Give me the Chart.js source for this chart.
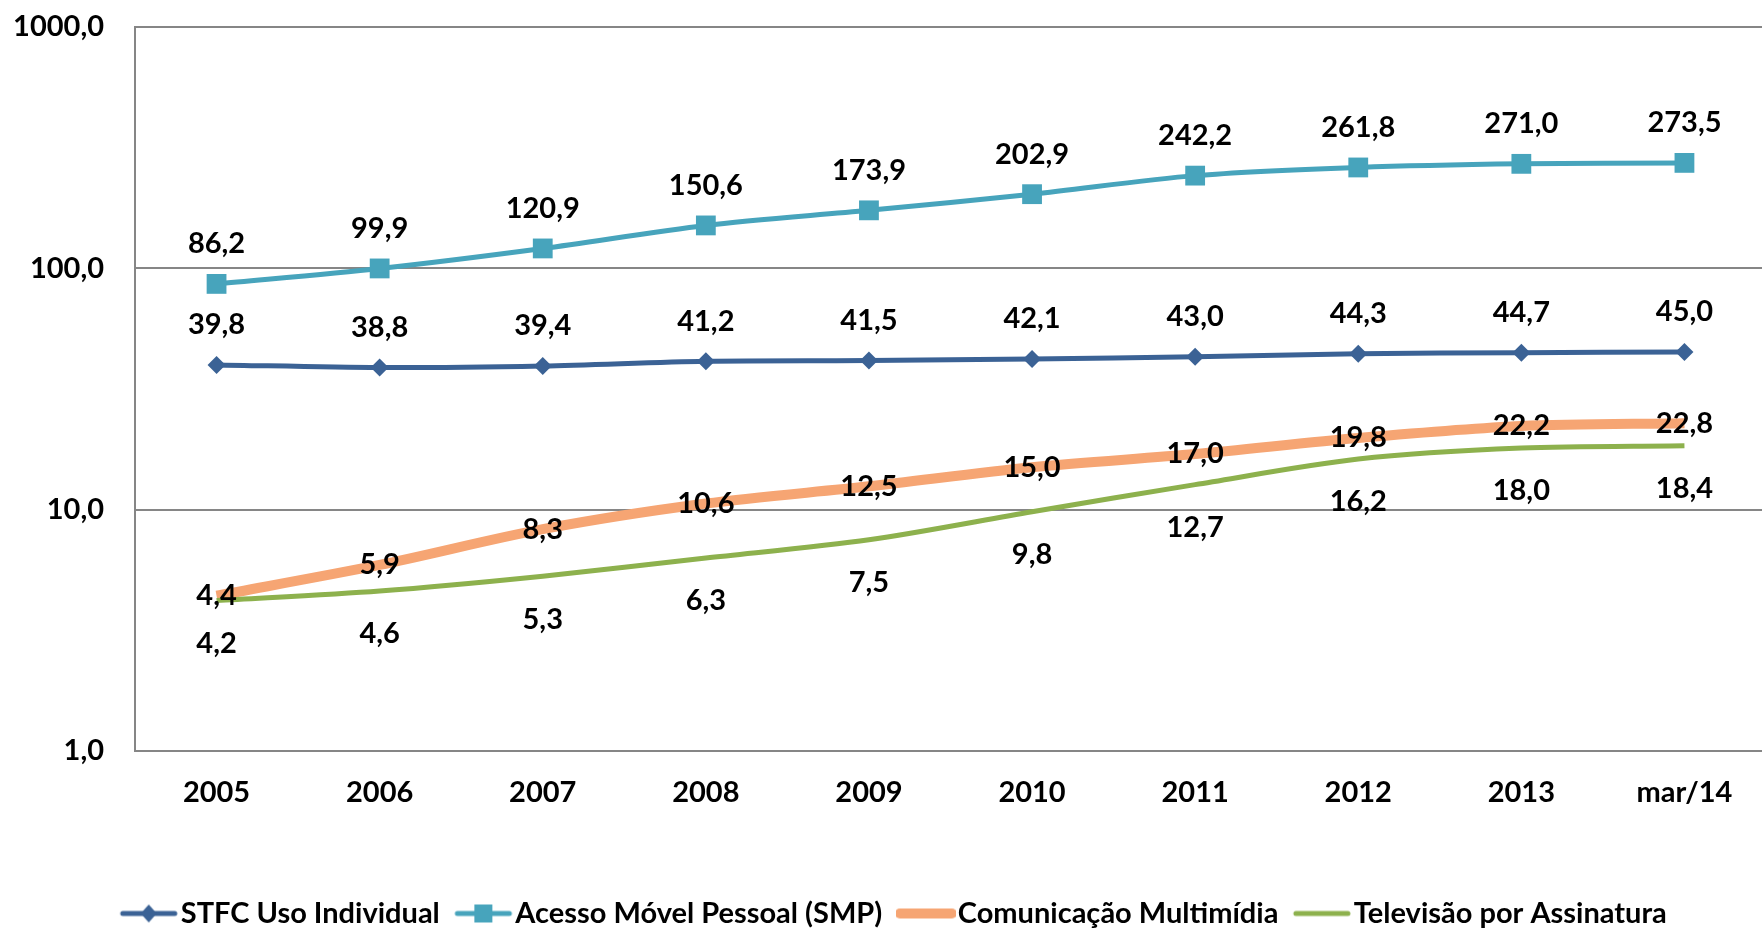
<!DOCTYPE html>
<html>
<head>
<meta charset="utf-8">
<script src="https://cdn.jsdelivr.net/npm/chart.js@4.4.1/dist/chart.umd.min.js"></script>
<style>
  body { margin: 0; background: #fff; overflow: hidden; }
  #wrap { width: 1762px; height: 928px; overflow: hidden; }
</style>
</head>
<body>
<div id="wrap"><canvas id="grafico" width="1766" height="928"></canvas></div>
<script>
const anos = ["2005", "2006", "2007", "2008", "2009", "2010", "2011", "2012", "2013", "mar/14"];
const stfc = [39.8, 38.8, 39.4, 41.2, 41.5, 42.1, 43.0, 44.3, 44.7, 45.0];
const smp = [86.2, 99.9, 120.9, 150.6, 173.9, 202.9, 242.2, 261.8, 271.0, 273.5];
const multimidia = [4.4, 5.9, 8.3, 10.6, 12.5, 15.0, 17.0, 19.8, 22.2, 22.8];
const tvAssinatura = [4.2, 4.6, 5.3, 6.3, 7.5, 9.8, 12.7, 16.2, 18.0, 18.4];
const yTicks = [1, 10, 100, 1000];

const FONTE = "Lato";
const CINZA = "#868686";
const TAM = 29;

function formatar(v) {
    return v.toFixed(1).replace(".", ",");
}

// icone da legenda: linha com o marcador no meio
function iconeLegenda(cor, largura, marcador) {
    const c = document.createElement("canvas");
    c.width = 60;
    c.height = 24;
    const g = c.getContext("2d");
    g.strokeStyle = cor;
    g.lineWidth = largura;
    g.lineCap = "round";
    g.beginPath();
    g.moveTo(4, 12);
    g.lineTo(56, 12);
    g.stroke();
    g.fillStyle = cor;
    if (marcador === "losango") {
        g.beginPath();
        g.moveTo(30, 3);
        g.lineTo(38, 12);
        g.lineTo(30, 21);
        g.lineTo(22, 12);
        g.closePath();
        g.fill();
    } else if (marcador === "quadrado") {
        g.fillRect(21, 3, 18, 18);
    }
    return c;
}

const rotulosPlugin = {
    id: "rotulos",
    afterDatasetsDraw(chart) {
        const ctx = chart.ctx;
        ctx.save();
        ctx.font = `bold ${TAM}px ${FONTE}`;
        ctx.fillStyle = "#000";
        ctx.textAlign = "center";
        ctx.textBaseline = "middle";
        chart.data.datasets.forEach((ds, i) => {
            const meta = chart.getDatasetMeta(i);
            meta.data.forEach((pt, j) => {
                ctx.fillText(formatar(ds.data[j]), pt.x, pt.y + ds.deslocRotulo);
            });
        });
        ctx.restore();
    },
};

// empurra a legenda um pouco para a direita e para baixo
const ajusteLegenda = {
    id: "ajusteLegenda",
    afterLayout(chart) {
        const lg = chart.legend;
        if (!lg) return;
        lg.left += 16;
        lg.right += 16;
        lg.top += 10;
        lg.bottom += 10;
    },
};

const series = [
    { label: "STFC Uso Individual", data: stfc, cor: "#3B6295", largura: 5, estilo: "rectRot", raio: 9, marcador: "losango", desloc: -40, ordem: 4 },
    { label: "Acesso Móvel Pessoal (SMP)", data: smp, cor: "#47A4BC", largura: 5, estilo: "rect", raio: 14, marcador: "quadrado", desloc: -40, ordem: 3 },
    { label: "Comunicação Multimídia", data: multimidia, cor: "#F6A573", largura: 10, estilo: false, raio: 0, marcador: null, desloc: 0, ordem: 2 },
    { label: "Televisão por Assinatura", data: tvAssinatura, cor: "#8DB14D", largura: 5, estilo: false, raio: 0, marcador: null, desloc: 43, ordem: 1 },
];

const datasets = series.map((s) => ({
    label: s.label,
    data: s.data,
    borderColor: s.cor,
    backgroundColor: s.cor,
    borderWidth: s.largura,
    pointStyle: s.estilo,
    pointRadius: s.raio,
    pointBorderWidth: 0,
    pointBackgroundColor: s.cor,
    tension: 0.3,
    order: s.ordem,
    deslocRotulo: s.desloc,
    icone: iconeLegenda(s.cor, s.largura, s.marcador),
}));

new Chart(document.getElementById("grafico"), {
    type: "line",
    data: { labels: anos, datasets: datasets },
    options: {
        responsive: false,
        animation: false,
        devicePixelRatio: 1,
        layout: { autoPadding: false, padding: { top: 27, right: 0, left: 0, bottom: 0 } },
        scales: {
            x: {
                type: "category",
                offset: true,
                afterFit: (scale) => {
                    scale.height = 112;
                },
                grid: { display: false, drawTicks: false },
                border: { display: true, color: CINZA, width: 2 },
                ticks: { color: "#000", font: { family: FONTE, size: TAM, weight: "bold" }, padding: 24, maxRotation: 0 },
            },
            y: {
                type: "logarithmic",
                min: 1,
                max: 1000,
                afterBuildTicks: (scale) => {
                    scale.ticks = yTicks.map((v) => ({ value: v }));
                },
                afterFit: (scale) => {
                    scale.width = 135;
                },
                grid: { color: CINZA, lineWidth: 2, drawTicks: true, tickLength: 31, tickColor: "rgba(0,0,0,0)" },
                border: { display: true, color: CINZA, width: 2 },
                ticks: {
                    color: "#000",
                    font: { family: FONTE, size: TAM, weight: "bold" },
                    padding: 0,
                    callback: (v) => formatar(v),
                },
            },
        },
        plugins: {
            tooltip: { enabled: false },
            legend: {
                position: "bottom",
                labels: {
                    usePointStyle: true,
                    pointStyleWidth: 35,
                    padding: 26,
                    color: "#000",
                    font: { family: FONTE, size: TAM, weight: "bold" },
                    sort: (a, b) => a.datasetIndex - b.datasetIndex,
                    generateLabels: (chart) =>
                        chart.data.datasets.map((ds, i) => ({
                            text: ds.label,
                            datasetIndex: i,
                            pointStyle: ds.icone,
                            fillStyle: ds.borderColor,
                            strokeStyle: ds.borderColor,
                            lineWidth: 0,
                            fontColor: "#000",
                            hidden: false,
                        })),
                },
            },
        },
    },
    plugins: [rotulosPlugin, ajusteLegenda],
});
</script>
</body>
</html>
